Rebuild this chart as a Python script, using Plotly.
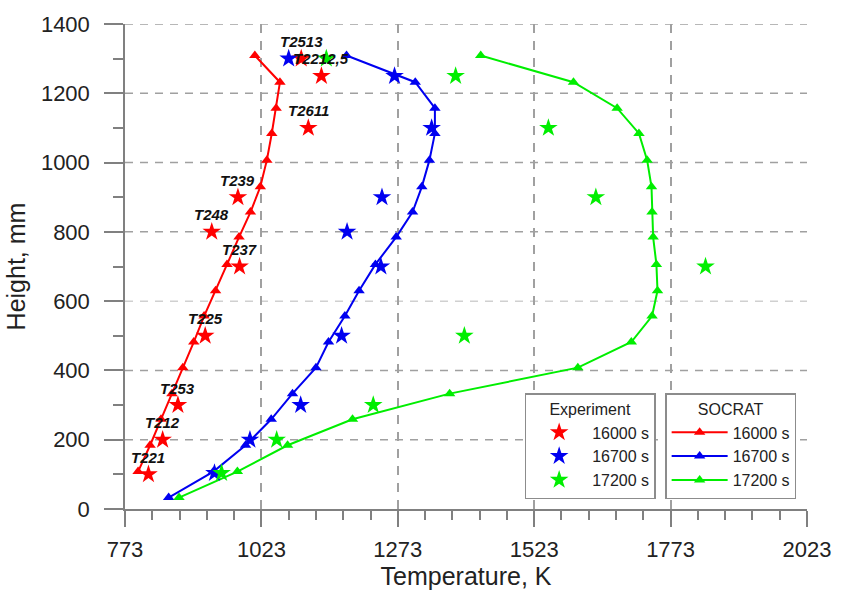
import plotly.graph_objects as go

# ---------------- data ----------------
SOC_H = [33, 108, 184, 259, 333, 408, 482, 557, 630, 706, 785, 857, 930, 1007, 1084, 1157, 1232, 1309]
SOC_T_16000 = [None, 797, 819, 839, 859, 879, 899, 918, 939, 960, 982, 1003, 1021, 1033, 1042, 1050, 1057, 1011]
SOC_T_16700 = [853, 935, 994, 1041, 1080, 1123, 1146, 1176, 1202, 1232, 1270, 1300, 1317, 1331, 1341, 1341, 1305, 1179]
SOC_T_17200 = [872, 979, 1071, 1190, 1368, 1603, 1701, 1739, 1749, 1747, 1741, 1739, 1738, 1730, 1715, 1675, 1595, 1425]

EXP_H_16000 = [100, 200, 300, 500, 700, 800, 900, 1100, 1250, 1300]
EXP_T_16000 = [816, 842, 870, 920, 983, 932, 980, 1109, 1133, 1096]
EXP_LABELS = ["T221", "T212", "T253", "T225", "T237", "T248", "T239", "T2611", "T2212,5", "T2513"]

EXP_H_16700 = [104, 200, 300, 500, 700, 800, 900, 1100, 1250, 1300]
EXP_T_16700 = [937, 1002, 1095, 1170, 1242, 1180, 1244, 1335, 1267, 1073]

EXP_H_17200 = [104, 200, 300, 500, 700, 900, 1100, 1250, 1300]
EXP_T_17200 = [950, 1051, 1228, 1395, 1837, 1636, 1549, 1379, 1142]

SERIES_NAMES = ["16000 s", "16700 s", "17200 s"]
X_TICKS = [773, 1023, 1273, 1523, 1773, 2023]
Y_TICKS = [0, 200, 400, 600, 800, 1000, 1200, 1400]

COLORS = ["#FF0000", "#0000F0", "#00EE00"]

fig = go.Figure()

soc = [SOC_T_16000, SOC_T_16700, SOC_T_17200]
for name, t, c in zip(SERIES_NAMES, soc, COLORS):
    xs = [v for v in t if v is not None]
    ys = [h for v, h in zip(t, SOC_H) if v is not None]
    fig.add_trace(go.Scatter(
        x=xs, y=ys, mode="lines+markers", name=name, legend="legend2",
        line=dict(color=c, width=2),
        marker=dict(symbol="triangle-up", size=10, color=c),
    ))

exp = [(EXP_T_16000, EXP_H_16000), (EXP_T_16700, EXP_H_16700), (EXP_T_17200, EXP_H_17200)]
for name, (t, h), c in zip(SERIES_NAMES, exp, COLORS):
    fig.add_trace(go.Scatter(
        x=t, y=h, mode="markers", name=name, legend="legend",
        marker=dict(symbol="star", size=14, color=c, line=dict(width=0)),
    ))

for t, h, lab in zip(EXP_T_16000, EXP_H_16000, EXP_LABELS):
    fig.add_annotation(x=t, y=h, text=lab, showarrow=False, yshift=17,
                       font=dict(family="Arial", size=15, color="#111", weight="bold", style="italic"))

grid_col = "#a0a0a0"
for v in Y_TICKS[1:]:
    fig.add_shape(type="line", xref="paper", x0=0, x1=1, yref="y", y0=v, y1=v,
                  line=dict(color="#d0d0d0" if v == 600 else grid_col, width=1.5, dash="8px,7px"),
                  layer="below")

axis_col = "#808080"
fig.update_xaxes(
    range=[773, 2023], tickvals=X_TICKS, ticks="outside", ticklen=16, tickwidth=1.5, tickcolor=axis_col,
    showline=True, linecolor=axis_col, linewidth=1.5, zeroline=False,
    showgrid=True, gridcolor=grid_col, gridwidth=1.5, griddash="9px,8px",
    minor=dict(dtick=50, tick0=773, ticks="outside", ticklen=9, tickwidth=1.5, tickcolor=axis_col, showgrid=False),
    tickfont=dict(size=22, color="#222"), ticklabelstandoff=4,
    title=dict(text="Temperature, K", font=dict(size=25, color="#222"), standoff=2),
)
fig.update_yaxes(
    range=[0, 1400], tickvals=Y_TICKS, ticks="outside", ticklen=19, tickwidth=1.5, tickcolor=axis_col,
    showline=True, linecolor=axis_col, linewidth=1.5, zeroline=False, showgrid=False,
    minor=dict(dtick=100, tick0=0, ticks="outside", ticklen=10, tickwidth=1.5, tickcolor=axis_col, showgrid=False),
    tickfont=dict(size=22, color="#222"), ticklabelstandoff=10,
    title=dict(text="Height, mm", font=dict(size=25, color="#222"), standoff=8),
)

leg_common = dict(
    xanchor="left", yanchor="top", y=0.239,
    bordercolor="#8c8c8c", borderwidth=1.5, bgcolor="white",
    font=dict(size=16, color="#222"), itemwidth=56, tracegroupgap=0,
)
fig.update_layout(
    width=843, height=602,
    margin=dict(l=125, r=34, t=19, b=93),
    plot_bgcolor="white", paper_bgcolor="white",
    font=dict(family="Arial", color="#222"),
    showlegend=True,
    legend=dict(title=dict(text="Experiment", side="top center", font=dict(size=16)), x=0.586, **leg_common),
    legend2=dict(title=dict(text="SOCRAT", side="top center", font=dict(size=16)), x=0.792, **leg_common),
)

fig.write_html("out.html")
